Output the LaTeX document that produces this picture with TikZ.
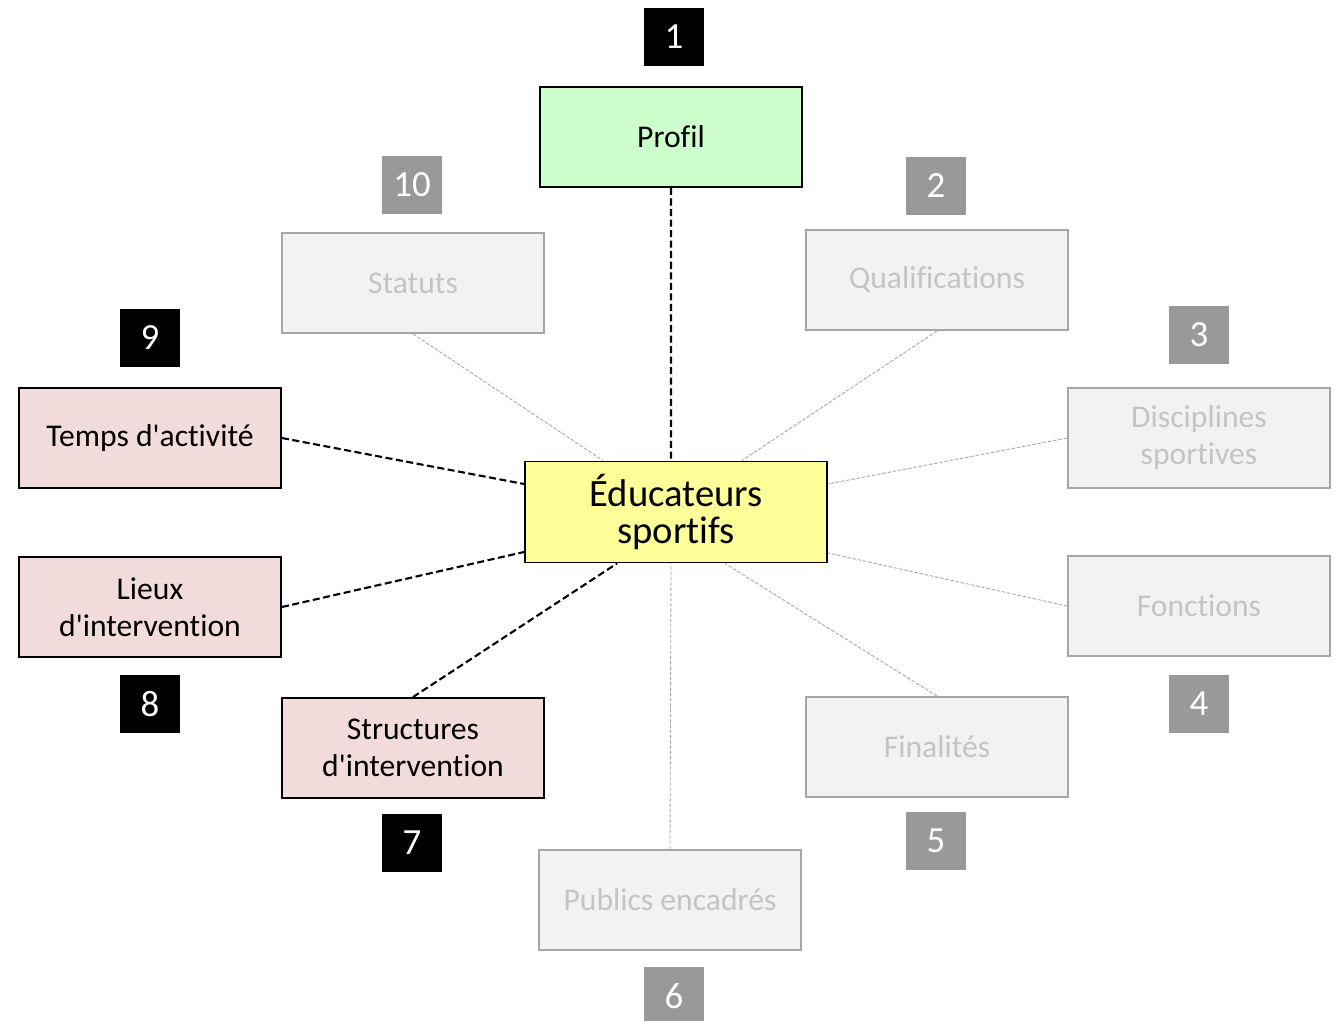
\documentclass[tikz,border=0pt]{standalone}
\usepackage{fontspec}
\setmainfont{Carlito}[Ligatures=NoCommon]
\usepackage{tikz}
\definecolor{edugreen}{HTML}{CCFFCC}
\definecolor{eduyellow}{HTML}{FFFF99}
\definecolor{edupink}{HTML}{F2DCDB}
\definecolor{edufade}{HTML}{F2F2F2}
\definecolor{edurim}{HTML}{A6A6A6}
\definecolor{edutext}{HTML}{C4C4C4}
\definecolor{edutag}{HTML}{999999}
\newcommand{\apos}{\textquotesingle}
\tikzset{
  card/.style={draw, line width=1.1pt, minimum width=5.24cm, minimum height=2cm, align=center, font=\fontsize{18}{21}\selectfont},
  mutedcard/.style={card, draw=edurim, fill=edufade, text=edutext},
  tag/.style={fill=black, text=white, minimum width=1.2cm, minimum height=1.16cm, inner sep=0pt, font=\fontsize{21}{24}\selectfont},
  mutedtag/.style={tag, fill=edutag},
  strong/.style={line width=1.2pt, dash pattern=on 4pt off 2pt},
  faint/.style={edurim, line width=0.5pt, dash pattern=on 2pt off 1pt}
}
\begin{document}
\begin{tikzpicture}[x=0.02cm, y=-0.02cm]
\useasboundingbox (0,0) rectangle (1337,1020);
% centre
\node[card, fill=eduyellow, minimum width=6.04cm, minimum height=2.02cm, font=\fontsize{22}{21}\selectfont] (coach) at (676,512) {Éducateurs\\sportifs};
% themes
\node[card, fill=edugreen] (profil) at (671,137) {Profil};
\node[mutedcard] (qualif) at (937,280) {Qualifications};
\node[mutedcard] (discipl) at (1199,438) {Disciplines\\sportives};
\node[mutedcard] (fonct) at (1199,606) {Fonctions};
\node[mutedcard] (final) at (937,747) {Finalités};
\node[mutedcard] (public) at (670,900) {Publics encadrés};
\node[card, fill=edupink] (struct) at (413,748) {Structures\\d\apos intervention};
\node[card, fill=edupink] (lieux) at (150,607) {Lieux\\d\apos intervention};
\node[card, fill=edupink] (temps) at (150,438) {Temps d\apos activité};
\node[mutedcard] (statut) at (413,283) {Statuts};
% numbers
\node[tag] (n1) at (674,37) {1};
\node[mutedtag] (n2) at (936,186) {2};
\node[mutedtag] (n3) at (1199,335) {3};
\node[mutedtag] (n4) at (1199,704) {4};
\node[mutedtag] (n5) at (936,841) {5};
\node[mutedtag] (n6) at (674,996) {6};
\node[tag] (n7) at (412,843) {7};
\node[tag] (n8) at (150,704) {8};
\node[tag] (n9) at (150,338) {9};
\node[mutedtag] (n10) at (412,185) {10};
% links
\draw[strong] (profil.south) -- ([xshift=-0.1cm]coach.north);
\draw[strong] (temps.east) -- ([yshift=0.56cm]coach.west);
\draw[strong] (lieux.east) -- ([yshift=-0.8cm]coach.west);
\draw[strong] (struct.north) -- ([xshift=-1.18cm]coach.south);
\draw[faint] (statut.south) -- ([xshift=-1.46cm]coach.north);
\draw[faint] (qualif.south) -- ([xshift=1.32cm]coach.north);
\draw[faint] (discipl.west) -- ([yshift=0.56cm]coach.east);
\draw[faint] (fonct.west) -- ([yshift=-0.82cm]coach.east);
\draw[faint] (final.north) -- ([xshift=0.98cm]coach.south);
\draw[faint] (public.north) -- ([xshift=-0.1cm]coach.south);
\end{tikzpicture}
\end{document}
